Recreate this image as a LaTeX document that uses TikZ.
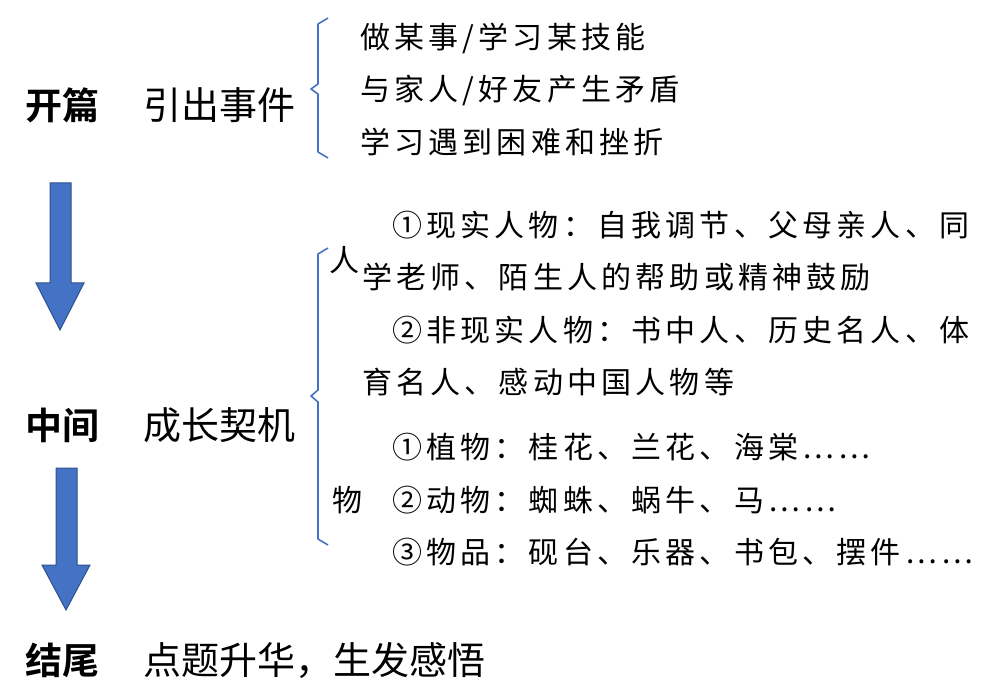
\documentclass[tikz,border=0pt]{standalone}
\usepackage{fontspec}
\setmainfont{Noto Sans CJK SC}
\newfontfamily\cjkb{Noto Sans CJK SC Bold}
\newfontfamily\cjkr[LetterSpace=14]{Noto Sans CJK SC}
\definecolor{bl}{HTML}{4472C4}
\definecolor{bld}{HTML}{2F528F}
\begin{document}
\begin{tikzpicture}[x=1pt,y=-1pt,
  head/.style={font=\cjkb\fontsize{37}{40}\selectfont,anchor=west,inner sep=0},
  sub/.style={font=\fontsize{38}{40}\selectfont,anchor=west,inner sep=0},
  item/.style={font=\cjkr\fontsize{30}{33}\selectfont,anchor=west,inner sep=0},
  brace/.style={draw=bl,line width=1.6pt,line join=round},
  barrow/.style={fill=bl,draw=bld,line width=1pt}]
\useasboundingbox (0,0) rectangle (1002,695);
\node[head] (h1) at (25,105) {开篇};
\node[sub] (s1) at (143,105) {引出事件};
\node[head] (h2) at (25,425) {中间};
\node[sub] (s2) at (143,425) {成长契机};
\node[head] (h3) at (25,660) {结尾};
\node[sub] (s3) at (143,660) {点题升华，生发感悟};
\draw[brace] (328,18) -- (318,24) -- (318,84) -- (311,89) -- (318,94) -- (318,152) -- (328,158);
\draw[brace] (328,248) -- (318,254) -- (318,390) -- (311,396) -- (318,402) -- (318,539) -- (328,545);
\node[item] (a1) at (360,38) {做某事/学习某技能};
\node[item] (a2) at (360,90) {与家人/好友产生矛盾};
\node[item] (a3) at (360,142) {学习遇到困难和挫折};
\node[item] (p) at (329,260) {人};
\node[item] (w) at (332,500) {物};
\node[item] (b1) at (392,225) {①现实人物：自我调节、父母亲人、同};
\node[item] (b2) at (362,277) {学老师、陌生人的帮助或精神鼓励};
\node[item] (b3) at (392,330) {②非现实人物：书中人、历史名人、体};
\node[item] (b4) at (362,382) {育名人、感动中国人物等};
\node[item] (c1) at (392,447) {①植物：桂花、兰花、海棠……};
\node[item] (c2) at (392,500) {②动物：蜘蛛、蜗牛、马……};
\node[item] (c3) at (392,552) {③物品：砚台、乐器、书包、摆件……};
\draw[barrow] (50,183) -- (71,183) -- (71,283) -- (84,283) -- (60,330) -- (36,283) -- (50,283) -- cycle;
\draw[barrow] (56,468) -- (77,468) -- (77,565) -- (90,565) -- (66,610) -- (42,565) -- (56,565) -- cycle;
\end{tikzpicture}
\end{document}
